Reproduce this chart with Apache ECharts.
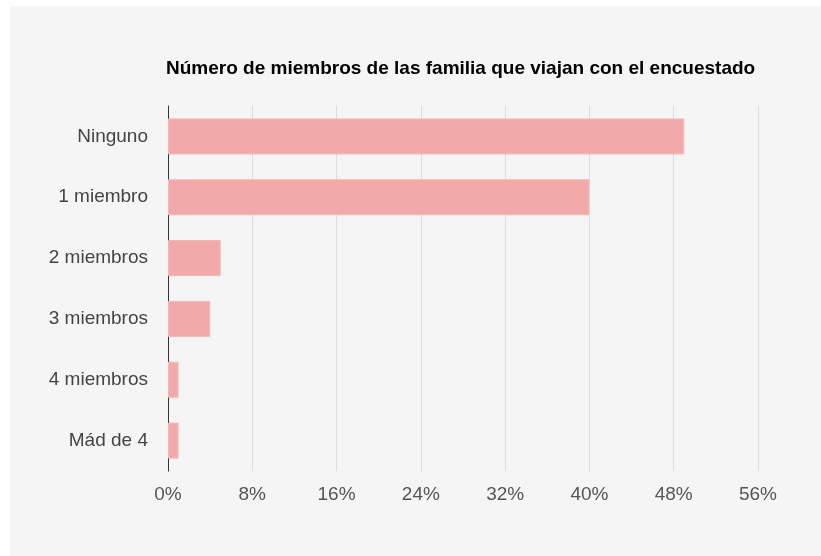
<!DOCTYPE html>
<html>
<head>
<meta charset="utf-8">
<script src="https://cdn.jsdelivr.net/npm/echarts@6/dist/echarts.min.js"></script>
<style>
  html, body { margin: 0; padding: 0; background: #ffffff; }
  #chart { position: absolute; left: 10px; top: 6px; width: 811px; height: 550px; background: #f5f5f5; }
</style>
</head>
<body>
<div id="chart"></div>
<script>
// data
var categories = ['Ninguno', '1 miembro', '2 miembros', '3 miembros', '4 miembros', 'Mád de 4']
var percents = [49, 40, 5, 4, 1, 1]
var chartTitle = 'Número de miembros de las familia que viajan con el encuestado'

var chart = echarts.init(document.getElementById('chart'))
chart.setOption({
  backgroundColor: '#f5f5f5',
  animation: false,
  title: {
    text: chartTitle,
    left: 151,
    top: 48,
    textStyle: {
      fontFamily: 'Liberation Sans',
      fontSize: 19,
      fontWeight: 'bold',
      color: '#000000'
    }
  },
  grid: {
    left: 158,
    right: 63,
    top: 100,
    bottom: 85,
    containLabel: false
  },
  xAxis: {
    type: 'value',
    min: 0,
    max: 56,
    interval: 8,
    axisLine: { show: false },
    axisTick: { show: false },
    splitLine: {
      show: true,
      lineStyle: { color: '#dcdcdc', width: 1 }
    },
    axisLabel: {
      formatter: '{value}%',
      margin: 14,
      fontFamily: 'Liberation Sans',
      fontSize: 19,
      color: '#555555'
    }
  },
  yAxis: {
    type: 'category',
    data: categories,
    inverse: true,
    axisLine: {
      show: true,
      lineStyle: { color: '#333333', width: 1 }
    },
    axisTick: { show: false },
    axisLabel: {
      margin: 20,
      fontFamily: 'Liberation Sans',
      fontSize: 19,
      color: '#444444'
    }
  },
  series: [{
    type: 'bar',
    data: percents,
    barWidth: 36,
    itemStyle: {
      color: '#f1aaa9',
      borderColor: '#f3b8b7',
      borderWidth: 1
    }
  }]
})
</script>
</body>
</html>
